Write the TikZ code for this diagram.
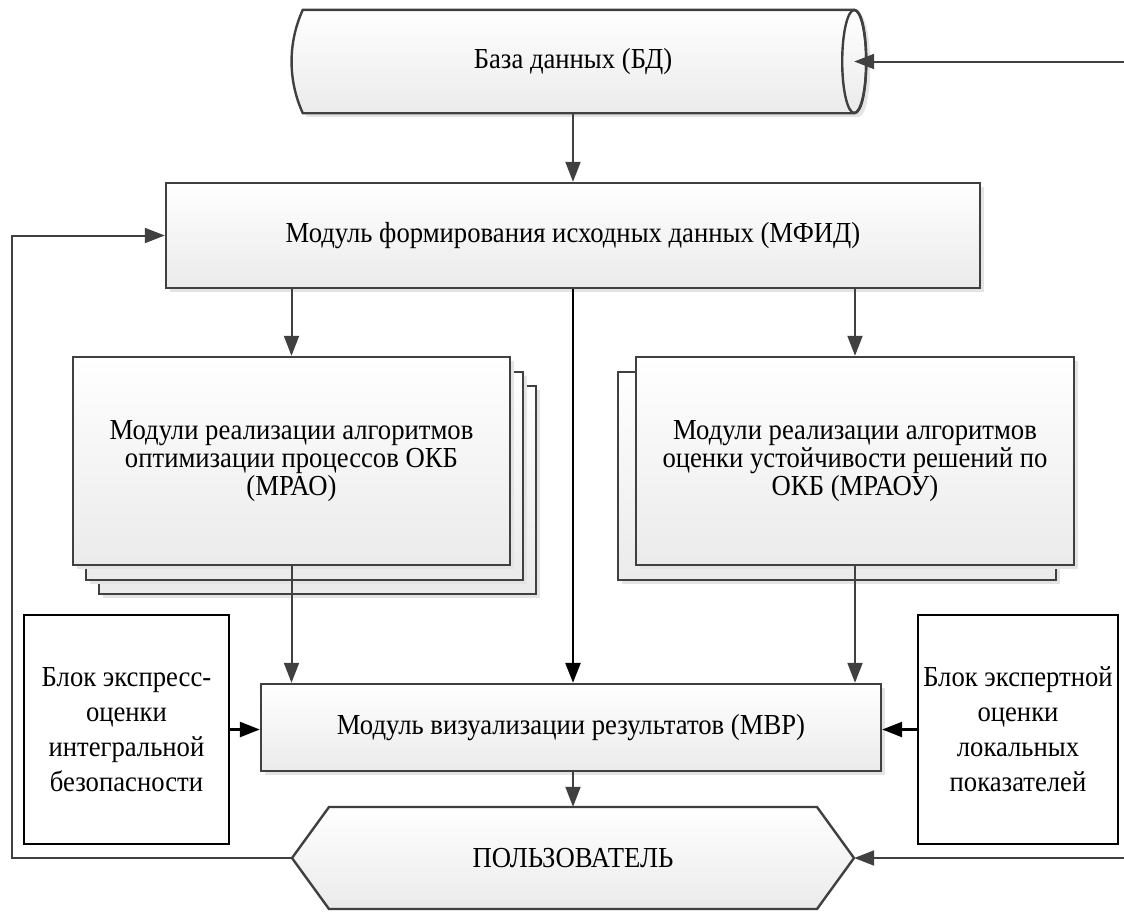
\documentclass[tikz,border=0pt]{standalone}
\usepackage{fontspec}
\setmainfont[FakeStretch=0.92]{Liberation Serif}
\usetikzlibrary{arrows.meta,shadows,calc}
\definecolor{edgec}{RGB}{64,64,64}
\definecolor{shadc}{RGB}{228,228,228}
\begin{document}
\begin{tikzpicture}[x=1pt,y=-1pt,
  shad/.style={general shadow={shadow xshift=4pt,shadow yshift=-4pt,fill=shadc}},
  gfill/.style={top color=white,bottom color=black!8},
  box/.style={rectangle,draw=edgec,line width=2.4pt,gfill,shad,inner sep=0pt,
    align=center,font=\fontsize{29}{28}\selectfont},
  blk/.style={rectangle,draw=black,line width=2.4pt,fill=white,inner sep=0pt,
    align=center,font=\fontsize{29}{35}\selectfont,
    minimum height=229pt},
  txt/.style={inner sep=0pt,align=center,font=\fontsize{29}{28}\selectfont},
  arr/.style={draw=edgec,line width=2pt,-{Triangle[length=20pt,width=15pt]}},
  barr/.style={draw=black,line width=2.6pt,-{Triangle[length=20pt,width=15pt]}}]
\useasboundingbox (0,0) rectangle (1124,914);

% database
\node[rectangle,inner sep=0pt,minimum width=551pt,minimum height=103pt] (db) at (578.5,61.5) {};
\path[shad,draw=edgec,line width=2.4pt,gfill]
  (db.north west) -- (db.north east)
  .. controls ($(db.north east)+(16,0)$) and ($(db.south east)+(16,0)$) .. (db.south east)
  -- (db.south west)
  .. controls ($(db.south west)+(-15,-33)$) and ($(db.north west)+(-15,33)$) .. (db.north west)
  -- cycle;
\draw[edgec,line width=2.4pt] (db.east) ellipse [x radius=12, y radius=51.5];
\node[txt] (dbt) at (573,61.5) {База данных (БД)};

% MFID
\node[box,minimum width=814pt,minimum height=105pt] (mfid) at (573,235.5)
  {Модуль формирования исходных данных (МФИД)};

% MRAO stack
\node[box,minimum width=437pt,minimum height=208pt] (mrao3) at (317.5,490) {};
\node[box,minimum width=437pt,minimum height=208pt] (mrao2) at (304.5,476) {};
\node[box,minimum width=437pt,minimum height=208pt] (mrao) at (291.5,461)
  {Модули реализации алгоритмов\\оптимизации процессов ОКБ\\(МРАО)};

% MRAOU stack
\node[box,minimum width=438pt,minimum height=208pt] (mraou2) at (837,476) {};
\node[box,minimum width=438pt,minimum height=208pt] (mraou) at (855,461)
  {Модули реализации алгоритмов\\оценки устойчивости решений по\\ОКБ (МРАОУ)};

% MVR
\node[box,minimum width=620pt,minimum height=87pt] (mvr) at (571,727.5)
  {Модуль визуализации результатов (МВР)};

% side blocks
\node[blk,minimum width=205pt] (lb) at (126.5,729.5)
  {Блок экспресс-\\оценки\\интегральной\\безопасности};
\node[blk,minimum width=200pt] (rb) at (1018,729.5)
  {Блок экспертной\\оценки\\локальных\\показателей};

% user hexagon
\coordinate (uc) at (573,858);
\path[draw=edgec,line width=2.4pt,gfill]
  ($(uc)+(-281,0)$) -- ($(uc)+(-244,-51)$) -- ($(uc)+(244,-51)$) -- ($(uc)+(281,0)$)
  -- ($(uc)+(244,51)$) -- ($(uc)+(-244,51)$) -- cycle;
\node[txt,minimum width=562pt,minimum height=102pt] (user) at (uc) {ПОЛЬЗОВАТЕЛЬ};

% free ends
\coordinate (dbin) at (1124,61.5);
\coordinate (uin) at (1124,858);
\coordinate (fb) at (12,858);

% connectors
\draw[arr] (dbin) -- (db.east);
\draw[arr] (mfid.north |- db.south) -- (mfid.north);
\draw[arr] (user.west) -- (fb) |- (mfid.west);
\draw[arr] (mfid.south -| mrao.north) -- (mrao.north);
\draw[arr] (mfid.south -| mraou.north) -- (mraou.north);
\draw[barr] (mfid.south) -- (mfid.south |- mvr.north);
\draw[arr] (mrao.south) -- (mrao.south |- mvr.north);
\draw[arr] (mraou.south) -- (mraou.south |- mvr.north);
\draw[barr] (lb.east) -- (lb.east -| mvr.west);
\draw[barr] (rb.west) -- (rb.west -| mvr.east);
\draw[arr] (user.north |- mvr.south) -- (user.north);
\draw[arr] (uin) -- (user.east);
\end{tikzpicture}
\end{document}
